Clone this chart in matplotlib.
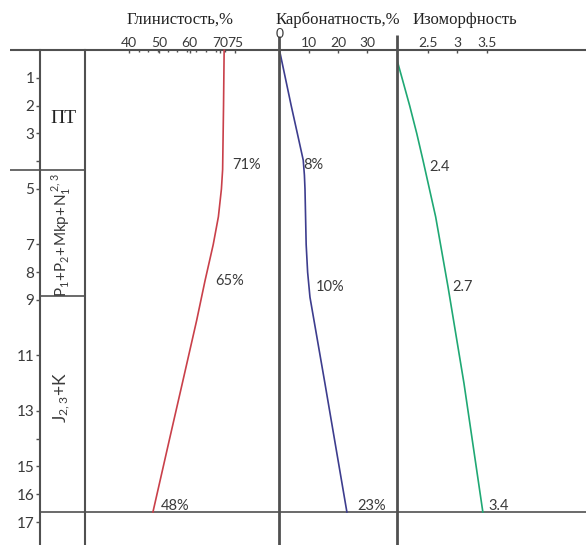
import numpy as np
import matplotlib
matplotlib.use("Agg")
import matplotlib.pyplot as plt
from matplotlib.ticker import FixedLocator

# ---------------- data ----------------
depth_ticks = [1, 2, 3, 5, 7, 8, 9, 11, 13, 15, 16, 17]
depth_minor = [4, 14]
layer_bounds = [4.3, 8.86, 16.64]
layer_names = ["ПТ", r"$\mathregular{P_1\!+\!P_2\!+\!Mkp\!+\!N_1^{\ 2,3}}$", r"$\mathregular{J_{2,3}\!+\!K}$"]

clay_depth = [0, 2, 4.3, 5, 6, 7, 8.3, 9.75, 12, 14, 16.64]
clay_val = [71.4, 71.2, 70.9, 70.5, 69.5, 67.8, 65.1, 62.3, 57.6, 53.4, 47.9]
clay_ticks = [40, 50, 60, 70, 75]
clay_labels = ["71%", "65%", "48%"]
clay_label_pos = [(74.0, 4.14), (68.4, 8.32), (50.6, 16.42)]

carb_depth = [0, 1, 2, 3, 3.96, 4.5, 5, 6, 7, 8, 8.9, 12, 16.64]
carb_val = [0, 2.0, 4.0, 6.1, 8.1, 8.5, 8.7, 8.9, 9.1, 9.6, 10.4, 15.5, 23.0]
carb_ticks = [10, 20, 30]
carb_labels = ["8%", "10%", "23%"]
carb_label_pos = [(8.0, 4.14), (12.5, 8.53), (26.5, 16.42)]

iso_depth = [0.35, 1, 2, 3, 3.96, 6, 8.53, 12, 16.64]
iso_val = [1.975, 2.06, 2.19, 2.31, 2.415, 2.63, 2.84, 3.11, 3.43]
iso_ticks = [2.5, 3, 3.5]
iso_labels = ["2.4", "2.7", "3.4"]
iso_label_pos = [(2.53, 4.2), (2.92, 8.53), (3.53, 16.42)]

titles = ["Глинистость,%", "Карбонатность,%", "Изоморфность"]

# ---------------- style ----------------
plt.rcParams['font.family'] = ['Lato', 'DejaVu Sans']
plt.rcParams['mathtext.fontset'] = 'custom'
plt.rcParams['mathtext.rm'] = 'Lato'
plt.rcParams['mathtext.it'] = 'Lato:italic'
TXT = '#3a3a3a'
LN = '#505050'
SERIF = ['Liberation Serif', 'DejaVu Serif']

W, H = 586, 545
fig = plt.figure(figsize=(W / 100, H / 100), dpi=100)
PXD = 27.75
D0 = 50.25
dtop = -D0 / PXD
dbot = (H - D0) / PXD


def add_ax(x0, x1):
    ax = fig.add_axes([x0 / W, 0, (x1 - x0) / W, 1])
    ax.set_ylim(dbot, dtop)
    ax.patch.set_alpha(0)
    for s in ax.spines.values():
        s.set_visible(False)
    return ax

# depth / stratigraphy column
axd = add_ax(40, 85)
axd.set_xlim(0, 45)
for side in ('left', 'right'):
    axd.spines[side].set_visible(True)
    axd.spines[side].set_bounds(0, dbot)
    axd.spines[side].set_color(LN)
    axd.spines[side].set_linewidth(1.5)
axd.set_xticks([])
axd.yaxis.set_major_locator(FixedLocator(depth_ticks))
axd.yaxis.set_minor_locator(FixedLocator(depth_minor))
axd.tick_params(axis='y', which='both', direction='out', length=3, width=1,
                color=LN, labelsize=11, labelcolor=TXT, pad=1)
axd.set_yticklabels([str(t) for t in depth_ticks])

# horizontal structural lines
axd.hlines(0, -30, 546, color=LN, lw=1.5, clip_on=False, zorder=5)
axd.hlines(layer_bounds[0], -30, 45, color=LN, lw=1.2, clip_on=False)
axd.hlines(layer_bounds[1], 0, 46, color=LN, lw=1.2, clip_on=False)
axd.hlines(layer_bounds[2], 0, 546, color=LN, lw=1.2, clip_on=False)

axd.text(23, 2.45, layer_names[0], ha='center', va='center', fontsize=14,
         family=SERIF, color='#222222')
axd.text(22, 6.65, layer_names[1], ha='center', va='center', fontsize=11,
         rotation=90, color=TXT)
axd.text(22, 12.5, layer_names[2], ha='center', va='center', fontsize=12.5,
         rotation=90, color=TXT)

# panels
def panel(x0, x1, xlim, ticks, minor, depth, vals, color, labels, lpos, title, tx):
    ax = add_ax(x0, x1)
    ax.set_xlim(*xlim)
    ax.spines['top'].set_visible(False)
    ax.xaxis.set_ticks_position('top')
    ax.set_xticks(ticks)
    ax.set_xticklabels([('%g' % t) for t in ticks])
    if minor is not None:
        ax.set_xticks(minor, minor=True)
    ax.tick_params(axis='x', which='major', direction='in', length=2.5, width=1,
                   color=LN, labelsize=10, labelcolor=TXT, pad=1)
    ax.tick_params(axis='x', which='minor', direction='in', length=1.5, width=1,
                   color=LN)
    ax.set_yticks([])
    ax.plot(vals, depth, color=color, lw=1.2)
    for s, (xv, yv) in zip(labels, lpos):
        ax.text(xv, yv, s, ha='left', va='center', fontsize=10.5, color=TXT)
    fig.text(tx / W, 1 - 20 / H, title, ha='center', va='center', fontsize=12,
             family=SERIF, color='#222222')
    ax.spines['top'].set_position(('data', 0))
    return ax

clay_xlim = (40 - 44 / 3.03, 40 + 150 / 3.03)
axc = panel(85, 279, clay_xlim, clay_ticks, list(np.linspace(40, 75, 12)),
            clay_depth, clay_val, '#c9404a', clay_labels, clay_label_pos, titles[0], 180)
axk = panel(279, 397, (-0.17, 40.1), carb_ticks, None,
            carb_depth, carb_val, '#3d3d8e', carb_labels, carb_label_pos, titles[1], 338)
axi = panel(397, 586, (1.975, 1.975 + 189 / 59), iso_ticks, None,
            iso_depth, iso_val, '#1fa874', iso_labels, iso_label_pos, titles[2], 465)

# "0" label and vertical boundary lines of the carbonate panel
axk.text(0, -0.6, '0', ha='center', va='center', fontsize=10, color=TXT)
axk.vlines(0, -0.5, dbot, color=LN, lw=2, clip_on=False)
axi.vlines(1.975, -0.55, dbot, color=LN, lw=2, clip_on=False)

fig.savefig('out.png', dpi=100)
